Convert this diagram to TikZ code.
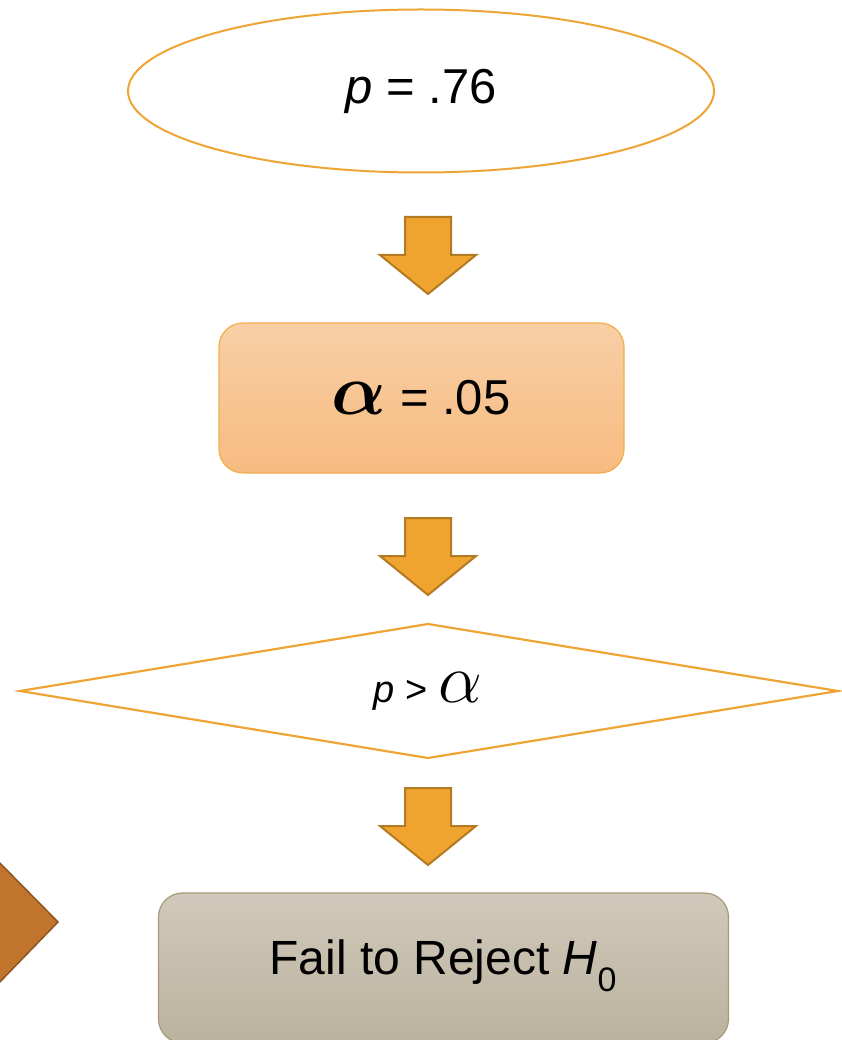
\documentclass[tikz,border=0pt]{standalone}
\usepackage{amsmath}
\usepackage{bm}
\usepackage{fontspec}
\setmainfont{Liberation Sans}
\usetikzlibrary{shapes.geometric}
\definecolor{ored}{HTML}{EFA535}
\definecolor{arrfill}{HTML}{F0A430}
\definecolor{arrdraw}{HTML}{B47A22}
\definecolor{boxtop}{HTML}{F8CFA6}
\definecolor{boxbot}{HTML}{F7BB80}
\definecolor{boxdraw}{HTML}{F2AE4E}
\definecolor{graytop}{HTML}{D0C8BA}
\definecolor{graybot}{HTML}{BBB29E}
\definecolor{graydraw}{HTML}{A89A78}
\definecolor{trifill}{HTML}{C0742C}
\definecolor{tridraw}{HTML}{8C5522}
\tikzset{
  x=1pt, y=-1pt,
  txt/.style={font=\fontsize{49}{54}\selectfont, text=black},
  blockarrow/.style={fill=arrfill, draw=arrdraw, line width=2pt, line join=miter},
}
\newcommand{\myarrow}[2]{%
  \draw[blockarrow] (#1-23,#2) -- (#1+23,#2) -- (#1+23,#2+38) -- (#1+48,#2+38)
     -- (#1,#2+77) -- (#1-48,#2+38) -- (#1-23,#2+38) -- cycle;}
\begin{document}
\begin{tikzpicture}
\useasboundingbox (0,0) rectangle (841,1040);
% left partial triangle
\draw[fill=trifill, draw=tridraw, line width=1.5pt] (-5,858) -- (58,922) -- (-5,987) -- cycle;
% ellipse
\node[ellipse, draw=ored, line width=2pt, minimum width=586pt, minimum height=163pt, inner sep=0pt] (pv) at (421,91) {};
\node[txt] (pvt) at (421,91) {\textit{p} = .76};
% arrow 1
\myarrow{428}{217}
% alpha box
\node[draw=boxdraw, line width=1.2pt, rounded corners=24pt, top color=boxtop, bottom color=boxbot, minimum width=405pt, minimum height=150pt] (al) at (421.5,398) {};
\node[txt] (alt) at (421,398) {\scalebox{2.9}{$\bm{\alpha}$} = .05};
% arrow 2
\myarrow{428}{518}
% diamond
\draw[draw=ored, line width=2.2pt] (20,691) -- (428,624) -- (838,691) -- (428,758) -- cycle;
\node[font=\fontsize{38}{44}\selectfont] (cmp) at (428,691) {\textit{p} > \scalebox{2.8}{$\alpha$}};
% arrow 3
\myarrow{428}{788}
% result box
\node[draw=graydraw, line width=1.2pt, rounded corners=24pt, top color=graytop, bottom color=graybot, minimum width=570pt, minimum height=150pt] (res) at (443.5,968) {};
\node[font=\fontsize{48}{54}\selectfont] (rest) at (443,966) {Fail to Reject \textit{H}\raisebox{-0.35em}{\fontsize{34}{40}\selectfont 0}};
\end{tikzpicture}
\end{document}
